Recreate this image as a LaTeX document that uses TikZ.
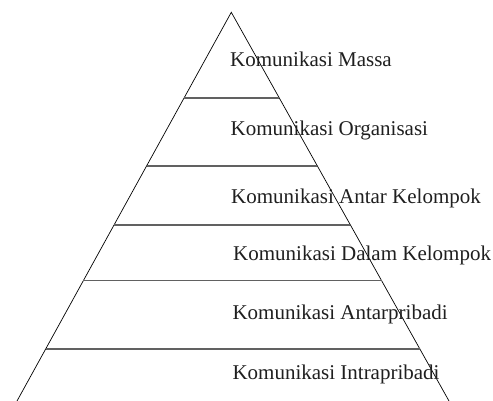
\documentclass[tikz,border=0pt]{standalone}
\usepackage{fontspec}
\setmainfont{Liberation Serif}
\usetikzlibrary{calc}
\begin{document}
\begin{tikzpicture}[x=1pt,y=-1pt,
  side/.style={draw=black,line width=0.7pt},
  level/.style={draw=black!62,line width=1.3pt},
  lbl/.style={anchor=base west,inner sep=0pt,text=black!88,font=\fontsize{21}{24}\selectfont}]
\useasboundingbox (0,0) rectangle (493,401);
\coordinate (apex) at (231.3,12.3);
\coordinate (bl) at (17,401);
\coordinate (br) at (449,401);
\draw[side] (bl) -- (apex) -- (br);
\foreach \t [count=\i] in {0.2205,0.3954,0.5472,0.6905,0.8662}{
  \coordinate (l\i) at ($(apex)!\t!(bl)$);
  \coordinate (r\i) at ($(apex)!\t!(br)$);
  \draw[level] (l\i) -- (r\i);
}
\node[lbl] (t1) at (230,66.7) {Komunikasi Massa};
\node[lbl] (t2) at (230.5,136) {Komunikasi Organisasi};
\node[lbl] (t3) at (231,203.3) {Komunikasi Antar Kelompok};
\node[lbl] (t4) at (233,260) {Komunikasi Dalam Kelompok};
\node[lbl] (t5) at (232.3,319.3) {Komunikasi Antarpribadi};
\node[lbl] (t6) at (232.3,379.3) {Komunikasi Intrapribadi};
\end{tikzpicture}
\end{document}
